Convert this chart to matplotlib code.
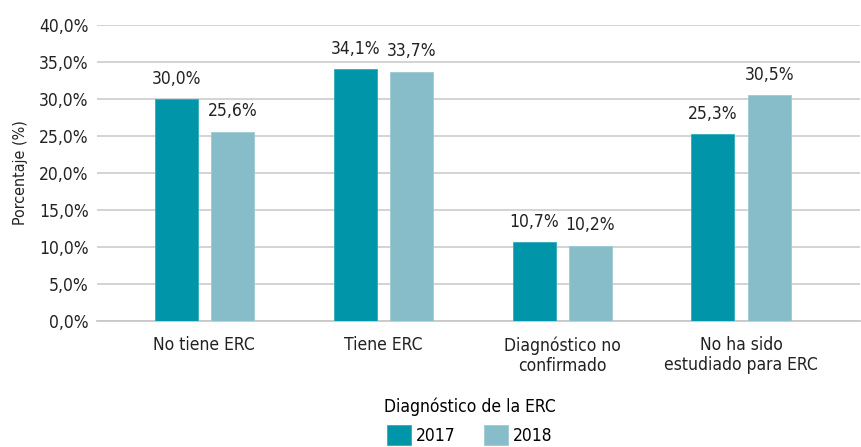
import numpy as np
import matplotlib.pyplot as plt
from matplotlib import font_manager

# pick a condensed font if available
names = {f.name for f in font_manager.fontManager.ttflist}
if 'Liberation Sans Narrow' in names:
    plt.rcParams['font.family'] = ['Liberation Sans Narrow', 'DejaVu Sans']
else:
    plt.rcParams['font.family'] = ['DejaVu Sans']
    plt.rcParams['font.stretch'] = 'condensed'

categories = ['No tiene ERC', 'Tiene ERC', 'Diagnóstico no\nconfirmado', 'No ha sido\nestudiado para ERC']
vals_2017 = [30.0, 34.1, 10.7, 25.3]
vals_2018 = [25.6, 33.7, 10.2, 30.5]
series_names = ['2017', '2018']
yticks = [0, 5, 10, 15, 20, 25, 30, 35, 40]

c2017 = '#0095a8'
c2018 = '#86bdc8'

fig = plt.figure(figsize=(8.62, 4.47), dpi=100)
ax = fig.add_axes([0.1125, 0.2819, 0.8852, 0.6622])

x = np.arange(len(categories))
w = 0.24
off = 0.157
b1 = ax.bar(x - off, vals_2017, w, color=c2017, edgecolor='#33aabb', linewidth=0.6, label=series_names[0], zorder=3)
b2 = ax.bar(x + off, vals_2018, w, color=c2018, edgecolor='#9ccad3', linewidth=0.6, label=series_names[1], zorder=3)

for bars in (b1, b2):
    for r in bars:
        h = r.get_height()
        ax.annotate(f'{h:.1f}%'.replace('.', ','), (r.get_x() + r.get_width() / 2, h),
                    xytext=(0, 8), textcoords='offset points', ha='center', va='bottom',
                    fontsize=12.5, color='#222222')

ax.set_ylim(0, 40)
ax.set_xlim(-0.6, 3.665)
ax.set_yticks(yticks)
ax.set_yticklabels([f'{t:.1f}%'.replace('.', ',') for t in yticks], fontsize=12.5, color='#222222')
ax.set_xticks(x)
ax.set_xticklabels(categories, fontsize=12.5, color='#222222', linespacing=1.15)
ax.tick_params(axis='y', length=0, pad=6)
ax.tick_params(axis='x', length=0, pad=11)
ax.set_ylabel('Porcentaje (%)', fontsize=11.5, color='#222222', labelpad=8)

ax.grid(axis='y', color='#d0d0d0', linewidth=1.3, zorder=0)
for s in ['top', 'right', 'left']:
    ax.spines[s].set_visible(False)
ax.spines['bottom'].set_color('#c8c8c8')
ax.spines['bottom'].set_linewidth(1.3)

leg = fig.legend(handles=[b1, b2], loc='lower center', bbox_to_anchor=(0.545, -0.03), ncol=2,
                 frameon=False, fontsize=12.5, title='Diagnóstico de la ERC', title_fontsize=12.5,
                 handlelength=1.4, handleheight=1.4, handletextpad=0.3, columnspacing=1.6)

fig.savefig('out.png', dpi=100)
